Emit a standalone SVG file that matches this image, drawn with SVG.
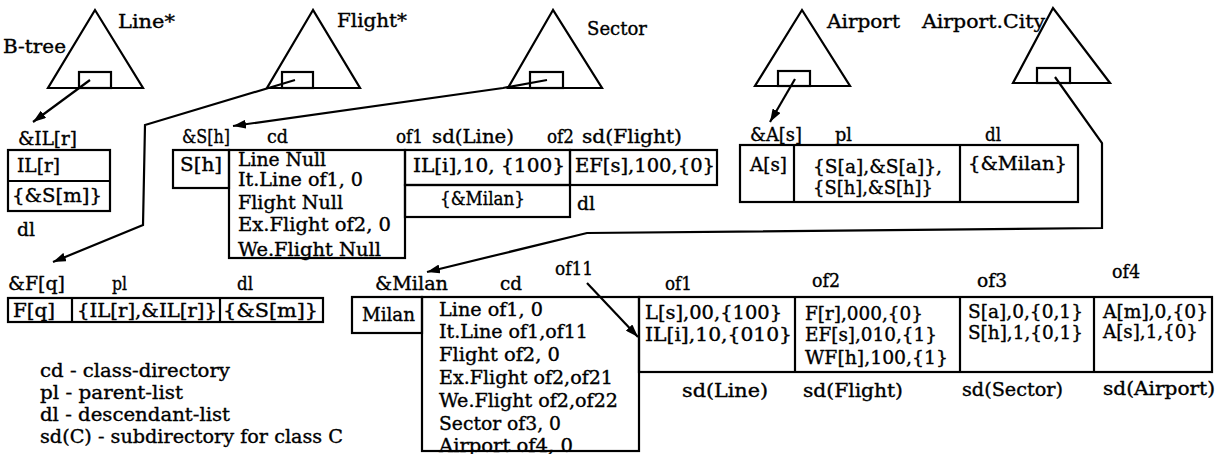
<svg xmlns="http://www.w3.org/2000/svg" width="1220" height="454" viewBox="0 0 1220 454">
<style>
.t{font-family:"DejaVu Serif","Liberation Serif",serif;font-size:18px;fill:#000;stroke:#000;stroke-width:0.35;}
.b{fill:none;stroke:#000;stroke-width:2.2;}
.c{fill:none;stroke:#000;stroke-width:2.2;}
</style>
<defs>
<marker id="ah" markerUnits="userSpaceOnUse" markerWidth="14" markerHeight="9" refX="13" refY="4.5" orient="auto">
<path d="M0,0 L13,4.5 L0,9 z" fill="#000"/>
</marker>
</defs>
<rect width="1220" height="454" fill="#fff"/>

<g id="tree-line">
<polygon class="b" points="95,10 48,88 143,88"/>
<rect class="b" x="79" y="72" width="32" height="16"/>
<text class="t" x="3" y="53" textLength="63" lengthAdjust="spacingAndGlyphs">B-tree</text>
<text class="t" x="118" y="28" textLength="57" lengthAdjust="spacingAndGlyphs">Line*</text>
</g>
<g id="tree-flight">
<polygon class="b" points="313,10 267,88 360,88"/>
<rect class="b" x="282" y="72" width="31" height="16"/>
<text class="t" x="337" y="27" textLength="70" lengthAdjust="spacingAndGlyphs">Flight*</text>
</g>
<g id="tree-sector">
<polygon class="b" points="553,10 508,88 602,88"/>
<rect class="b" x="530" y="72" width="33" height="16"/>
<text class="t" x="587" y="35" textLength="60" lengthAdjust="spacingAndGlyphs">Sector</text>
</g>
<g id="tree-airport">
<polygon class="b" points="802,10 755,86 850,86"/>
<rect class="b" x="778" y="71" width="32" height="15"/>
<text class="t" x="827" y="28" textLength="73" lengthAdjust="spacingAndGlyphs">Airport</text>
</g>
<g id="tree-airport-city">
<polygon class="b" points="1053,8 1013,83 1110,83"/>
<rect class="b" x="1037" y="68" width="33" height="15"/>
<text class="t" x="922" y="28" textLength="123" lengthAdjust="spacingAndGlyphs">Airport.City</text>
</g>

<g id="obj-ILr">
<text class="t" x="18" y="145" textLength="59" lengthAdjust="spacingAndGlyphs">&amp;IL[r]</text>
<rect class="b" x="8" y="150" width="102" height="61"/>
<line class="b" x1="8" y1="181" x2="110" y2="181"/>
<text class="t" x="17" y="172" textLength="43" lengthAdjust="spacingAndGlyphs">IL[r]</text>
<text class="t" x="12" y="202" textLength="90" lengthAdjust="spacingAndGlyphs">{&amp;S[m]}</text>
<text class="t" x="17" y="236" textLength="18" lengthAdjust="spacingAndGlyphs">dl</text>
</g>

<g id="obj-Sh">
<text class="t" x="182" y="143" textLength="48" lengthAdjust="spacingAndGlyphs">&amp;S[h]</text>
<text class="t" x="267" y="143" textLength="21" lengthAdjust="spacingAndGlyphs">cd</text>
<text class="t" x="396" y="143" textLength="27" lengthAdjust="spacingAndGlyphs">of1</text>
<text class="t" x="432" y="143" textLength="82" lengthAdjust="spacingAndGlyphs">sd(Line)</text>
<text class="t" x="547" y="143" textLength="27" lengthAdjust="spacingAndGlyphs">of2</text>
<text class="t" x="582" y="143" textLength="100" lengthAdjust="spacingAndGlyphs">sd(Flight)</text>
<rect class="b" x="173" y="150" width="56" height="38"/>
<text class="t" x="180" y="171" textLength="42" lengthAdjust="spacingAndGlyphs">S[h]</text>
<rect class="b" x="229" y="150" width="176" height="108"/>
<text class="t" x="238" y="166" textLength="88" lengthAdjust="spacingAndGlyphs">Line Null</text>
<text class="t" x="238" y="186" textLength="125" lengthAdjust="spacingAndGlyphs">It.Line of1, 0</text>
<text class="t" x="238" y="209" textLength="105" lengthAdjust="spacingAndGlyphs">Flight Null</text>
<text class="t" x="238" y="231" textLength="153" lengthAdjust="spacingAndGlyphs">Ex.Flight of2, 0</text>
<text class="t" x="238" y="256" textLength="143" lengthAdjust="spacingAndGlyphs">We.Flight Null</text>
<rect class="b" x="405" y="150" width="165" height="35"/>
<text class="t" x="413" y="172" textLength="152" lengthAdjust="spacingAndGlyphs">IL[i],10, {100}</text>
<rect class="b" x="405" y="185" width="165" height="32"/>
<text class="t" x="440" y="205" textLength="85" lengthAdjust="spacingAndGlyphs">{&amp;Milan}</text>
<rect class="b" x="570" y="150" width="147" height="35"/>
<text class="t" x="575" y="172" textLength="140" lengthAdjust="spacingAndGlyphs">EF[s],100,{0}</text>
<text class="t" x="577" y="210" textLength="18" lengthAdjust="spacingAndGlyphs">dl</text>
</g>

<g id="obj-As">
<text class="t" x="750" y="141" textLength="52" lengthAdjust="spacingAndGlyphs">&amp;A[s]</text>
<text class="t" x="835" y="141" textLength="17" lengthAdjust="spacingAndGlyphs">pl</text>
<text class="t" x="985" y="141" textLength="16" lengthAdjust="spacingAndGlyphs">dl</text>
<rect class="b" x="740" y="145" width="338" height="57"/>
<line class="b" x1="794" y1="145" x2="794" y2="202"/>
<line class="b" x1="960" y1="145" x2="960" y2="202"/>
<text class="t" x="750" y="171" textLength="37" lengthAdjust="spacingAndGlyphs">A[s]</text>
<text class="t" x="813" y="173" textLength="129" lengthAdjust="spacingAndGlyphs">{S[a],&amp;S[a]},</text>
<text class="t" x="813" y="194" textLength="120" lengthAdjust="spacingAndGlyphs">{S[h],&amp;S[h]}</text>
<text class="t" x="968" y="170" textLength="99" lengthAdjust="spacingAndGlyphs">{&amp;Milan}</text>
</g>

<g id="obj-Fq">
<text class="t" x="8" y="290" textLength="57" lengthAdjust="spacingAndGlyphs">&amp;F[q]</text>
<text class="t" x="112" y="290" textLength="15" lengthAdjust="spacingAndGlyphs">pl</text>
<text class="t" x="237" y="290" textLength="16" lengthAdjust="spacingAndGlyphs">dl</text>
<rect class="b" x="8" y="298" width="315" height="24"/>
<line class="b" x1="72" y1="298" x2="72" y2="322"/>
<line class="b" x1="220" y1="298" x2="220" y2="322"/>
<text class="t" x="13" y="317" textLength="42" lengthAdjust="spacingAndGlyphs">F[q]</text>
<text class="t" x="77" y="317" textLength="140" lengthAdjust="spacingAndGlyphs">{IL[r],&amp;IL[r]}</text>
<text class="t" x="223" y="317" textLength="95" lengthAdjust="spacingAndGlyphs">{&amp;S[m]}</text>
</g>

<g id="obj-Milan">
<text class="t" x="375" y="290" textLength="73" lengthAdjust="spacingAndGlyphs">&amp;Milan</text>
<text class="t" x="500" y="290" textLength="22" lengthAdjust="spacingAndGlyphs">cd</text>
<text class="t" x="555" y="275" textLength="38" lengthAdjust="spacingAndGlyphs">of11</text>
<text class="t" x="665" y="290" textLength="27" lengthAdjust="spacingAndGlyphs">of1</text>
<text class="t" x="812" y="287" textLength="28" lengthAdjust="spacingAndGlyphs">of2</text>
<text class="t" x="977" y="287" textLength="30" lengthAdjust="spacingAndGlyphs">of3</text>
<text class="t" x="1112" y="278" textLength="28" lengthAdjust="spacingAndGlyphs">of4</text>
<rect class="b" x="352" y="297" width="70" height="36"/>
<text class="t" x="362" y="321" textLength="53" lengthAdjust="spacingAndGlyphs">Milan</text>
<rect class="b" x="422" y="297" width="217" height="154"/>
<text class="t" x="439" y="316" textLength="104" lengthAdjust="spacingAndGlyphs">Line of1, 0</text>
<text class="t" x="439" y="338" textLength="149" lengthAdjust="spacingAndGlyphs">It.Line of1,of11</text>
<text class="t" x="439" y="361" textLength="121" lengthAdjust="spacingAndGlyphs">Flight of2, 0</text>
<text class="t" x="439" y="384" textLength="174" lengthAdjust="spacingAndGlyphs">Ex.Flight of2,of21</text>
<text class="t" x="439" y="407" textLength="179" lengthAdjust="spacingAndGlyphs">We.Flight of2,of22</text>
<text class="t" x="439" y="430" textLength="122" lengthAdjust="spacingAndGlyphs">Sector of3, 0</text>
<text class="t" x="439" y="452" textLength="134" lengthAdjust="spacingAndGlyphs">Airport of4, 0</text>
<rect class="b" x="639" y="297" width="573" height="75"/>
<line class="b" x1="795" y1="297" x2="795" y2="372"/>
<line class="b" x1="960" y1="297" x2="960" y2="372"/>
<line class="b" x1="1094" y1="297" x2="1094" y2="372"/>
<text class="t" x="645" y="319" textLength="137" lengthAdjust="spacingAndGlyphs">L[s],00,{100}</text>
<text class="t" x="645" y="341" textLength="147" lengthAdjust="spacingAndGlyphs">IL[i],10,{010}</text>
<text class="t" x="805" y="320" textLength="118" lengthAdjust="spacingAndGlyphs">F[r],000,{0}</text>
<text class="t" x="805" y="341" textLength="132" lengthAdjust="spacingAndGlyphs">EF[s],010,{1}</text>
<text class="t" x="805" y="364" textLength="143" lengthAdjust="spacingAndGlyphs">WF[h],100,{1}</text>
<text class="t" x="968" y="318" textLength="115" lengthAdjust="spacingAndGlyphs">S[a],0,{0,1}</text>
<text class="t" x="968" y="339" textLength="115" lengthAdjust="spacingAndGlyphs">S[h],1,{0,1}</text>
<text class="t" x="1103" y="318" textLength="105" lengthAdjust="spacingAndGlyphs">A[m],0,{0}</text>
<text class="t" x="1103" y="338" textLength="95" lengthAdjust="spacingAndGlyphs">A[s],1,{0}</text>
<text class="t" x="682" y="397" textLength="86" lengthAdjust="spacingAndGlyphs">sd(Line)</text>
<text class="t" x="803" y="397" textLength="100" lengthAdjust="spacingAndGlyphs">sd(Flight)</text>
<text class="t" x="962" y="396" textLength="101" lengthAdjust="spacingAndGlyphs">sd(Sector)</text>
<text class="t" x="1103" y="395" textLength="112" lengthAdjust="spacingAndGlyphs">sd(Airport)</text>
</g>

<g id="legend">
<text class="t" x="40" y="377" textLength="190" lengthAdjust="spacingAndGlyphs">cd - class-directory</text>
<text class="t" x="40" y="399" textLength="143" lengthAdjust="spacingAndGlyphs">pl - parent-list</text>
<text class="t" x="40" y="421" textLength="190" lengthAdjust="spacingAndGlyphs">dl - descendant-list</text>
<text class="t" x="40" y="443" textLength="303" lengthAdjust="spacingAndGlyphs">sd(C) - subdirectory for class C</text>
</g>

<g id="connectors">
<polyline class="c" points="90,80 33,122" marker-end="url(#ah)"/>
<polyline class="c" points="295,80 145,125 143,225 53,262" marker-end="url(#ah)"/>
<polyline class="c" points="547,80 503,88 233,126" marker-end="url(#ah)"/>
<polyline class="c" points="795,79 770,122" marker-end="url(#ah)"/>
<polyline class="c" points="1055,77 1102,143 1102,228 587,233 427,272" marker-end="url(#ah)"/>
<polyline class="c" points="587,283 638,337" marker-end="url(#ah)"/>
</g>
</svg>
